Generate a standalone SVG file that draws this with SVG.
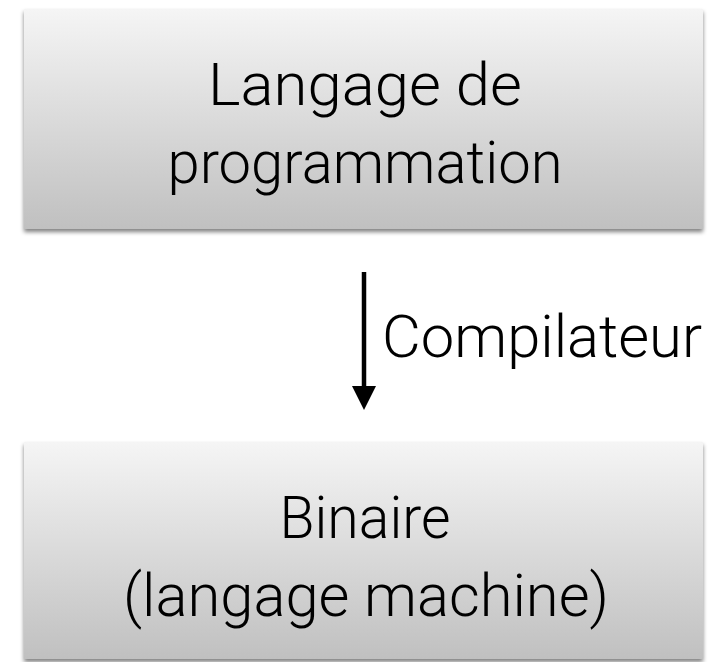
<svg xmlns="http://www.w3.org/2000/svg" width="714" height="662" viewBox="0 0 714 662">
<defs>
<linearGradient id="g" x1="0" y1="0" x2="0" y2="1">
<stop offset="0" stop-color="#f5f5f5"/>
<stop offset="1" stop-color="#c0c0c0"/>
</linearGradient>
<filter id="sh" x="-5%" y="-5%" width="110%" height="115%">
<feGaussianBlur in="SourceAlpha" stdDeviation="2"/>
<feOffset dx="0" dy="3" result="b"/>
<feComponentTransfer><feFuncA type="linear" slope="0.5"/></feComponentTransfer>
<feMerge><feMergeNode/><feMergeNode in="SourceGraphic"/></feMerge>
</filter>
<marker id="ah" viewBox="0 0 24 24" refX="0" refY="12" markerWidth="24" markerHeight="24" orient="auto" markerUnits="userSpaceOnUse">
<path d="M0,0 L24,12 L0,24 z" fill="#000"/>
</marker>
</defs>
<style>
.box{fill:url(#g);filter:url(#sh)}
.t{font-family:"Roboto","Inter","Liberation Sans",sans-serif;font-weight:300;font-size:60px;fill:#000;text-anchor:middle}
</style>
<rect width="714" height="662" fill="#fff"/>
<g id="node-source">
<rect class="box" x="24" y="9" width="679" height="220"/>
<text class="t" x="365" y="105" textLength="314" lengthAdjust="spacingAndGlyphs">Langage de</text>
<text class="t" x="365" y="183" textLength="395" lengthAdjust="spacingAndGlyphs">programmation</text>
</g>
<g id="node-binary">
<rect class="box" x="24" y="442" width="679" height="217"/>
<text class="t" x="365" y="538" textLength="171" lengthAdjust="spacingAndGlyphs">Binaire</text>
<text class="t" x="366" y="616" textLength="486" lengthAdjust="spacingAndGlyphs">(langage machine)</text>
</g>
<g id="connectors">
<line x1="364" y1="272" x2="364" y2="386" stroke="#000" stroke-width="4.5" marker-end="url(#ah)"/>
<text class="t" x="382" y="357" textLength="320" lengthAdjust="spacingAndGlyphs" style="text-anchor:start">Compilateur</text>
</g>
</svg>
